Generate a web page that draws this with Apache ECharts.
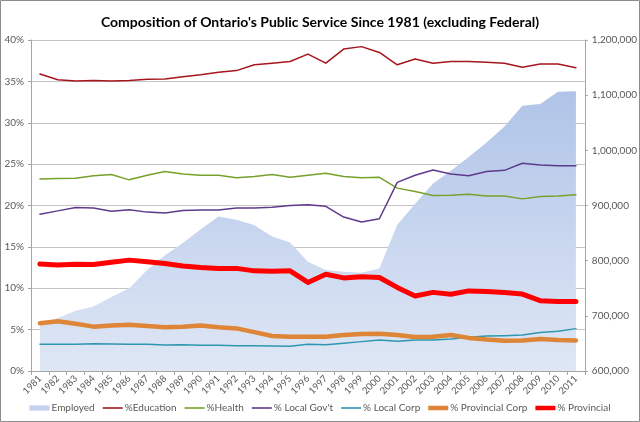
<!DOCTYPE html>
<html>
<head>
<meta charset="utf-8">
<script src="https://cdn.jsdelivr.net/npm/echarts@6/dist/echarts.min.js"></script>
<style>
html,body{margin:0;padding:0;background:#fff;}
#chart{width:640px;height:422px;}
</style>
</head>
<body>
<div id="chart"></div>
<script>
var years = ['1981','1982','1983','1984','1985','1986','1987','1988','1989','1990','1991','1992','1993','1994','1995','1996','1997','1998','1999','2000','2001','2002','2003','2004','2005','2006','2007','2008','2009','2010','2011'];
var employed = [682000,696000,709000,717000,734000,750000,783000,810000,832000,857000,880000,874000,864000,844000,833000,798000,783000,780000,778000,786000,865000,903000,940000,963000,988000,1014000,1043000,1081000,1084000,1106000,1107000];
var education = [35.9,35.2,35.05,35.1,35.05,35.1,35.25,35.3,35.55,35.8,36.1,36.3,37.0,37.2,37.4,38.3,37.2,38.9,39.2,38.5,37.0,37.7,37.2,37.4,37.4,37.3,37.2,36.7,37.1,37.1,36.65];
var health = [23.2,23.25,23.3,23.6,23.75,23.1,23.65,24.1,23.8,23.65,23.65,23.35,23.5,23.75,23.4,23.65,23.9,23.5,23.35,23.4,22.1,21.7,21.2,21.25,21.35,21.15,21.15,20.8,21.1,21.15,21.3];
var localGov = [18.95,19.35,19.75,19.7,19.3,19.5,19.2,19.1,19.4,19.45,19.45,19.7,19.7,19.8,20.0,20.1,19.9,18.6,18.0,18.4,22.8,23.65,24.3,23.8,23.6,24.1,24.25,25.1,24.9,24.8,24.8];
var localCorp = [3.23,3.23,3.23,3.3,3.27,3.23,3.23,3.15,3.18,3.1,3.1,3.06,3.06,3.02,2.98,3.23,3.18,3.35,3.55,3.75,3.6,3.75,3.75,3.87,4.07,4.23,4.27,4.35,4.64,4.8,5.12];
var provCorp = [5.77,6.0,5.7,5.36,5.5,5.6,5.45,5.3,5.35,5.5,5.3,5.15,4.7,4.23,4.15,4.15,4.15,4.35,4.48,4.5,4.35,4.1,4.15,4.35,4.0,3.8,3.67,3.7,3.87,3.75,3.7];
var provincial = [12.94,12.8,12.9,12.86,13.15,13.4,13.2,13.0,12.7,12.5,12.4,12.4,12.1,12.05,12.1,10.7,11.7,11.25,11.4,11.3,10.1,9.07,9.5,9.27,9.68,9.6,9.5,9.3,8.5,8.4,8.4];

var FONT = 'Lato, "Liberation Sans", sans-serif';
var TXT = '#595959';
var areaGrad = new echarts.graphic.LinearGradient(0,0,0,1,[
  {offset:0,color:'#b0c4e8'},
  {offset:1,color:'#dfe7f5'}
]);
var THIN = 'path://M0,0h20v1.6h-20z';
var THICK = 'path://M0,0h20v4.5h-20z';
var BOX = 'path://M0,0h19v5h-19z';

function lineSeries(name, data, color, width){
  return {
    name:name, type:'line', data:data, yAxisIndex:0,
    symbol:'none', showSymbol:false,
    lineStyle:{color:color,width:width,join:'round',cap:'round'},
    itemStyle:{color:color},
    emphasis:{disabled:true},
    animation:false
  };
}

var chart = echarts.init(document.getElementById('chart'));
chart.setOption({
  animation:false,
  textStyle:{fontFamily:FONT},
  title:{
    text:"Composition of Ontario's Public Service Since 1981 (excluding Federal)",
    left:'center', top:10,
    textStyle:{fontFamily:FONT,fontSize:14,fontWeight:'bold',color:'#000'}
  },
  graphic:[{
    type:'rect', silent:true, z:-10,
    shape:{x:0.5,y:0.5,width:639,height:421},
    style:{fill:null,stroke:'#8c8c8c',lineWidth:1}
  }],
  legend:{
    bottom:4, left:'center',
    itemWidth:20, itemHeight:8, itemGap:8,
    symbolKeepAspect:true,
    textStyle:{fontFamily:FONT,fontSize:10,color:TXT,padding:[0,0,0,-3]},
    data:[
      {name:'Employed',icon:BOX},
      {name:'%Education',icon:THIN},
      {name:'%Health',icon:THIN},
      {name:"% Local Gov't",icon:THIN},
      {name:'% Local Corp',icon:THIN},
      {name:'% Provincial Corp',icon:THICK},
      {name:'% Provincial',icon:THICK}
    ]
  },
  grid:{left:31,right:52,top:40,bottom:51,containLabel:false},
  xAxis:{
    type:'category', data:years, boundaryGap:true,
    axisLine:{lineStyle:{color:'#a6a6a6'}},
    axisTick:{show:true,length:4,lineStyle:{color:'#a6a6a6'}},
    axisLabel:{rotate:45,fontSize:9.5,color:TXT,margin:6,fontFamily:FONT,interval:0},
    splitLine:{show:false}
  },
  yAxis:[{
    type:'value', min:0, max:40, interval:5, position:'left',
    axisLine:{show:true,lineStyle:{color:'#a6a6a6'}},
    axisTick:{show:true,length:3,lineStyle:{color:'#a6a6a6'}},
    axisLabel:{formatter:'{value}%',fontSize:10,color:TXT,margin:7,fontFamily:FONT},
    splitLine:{show:true,lineStyle:{color:'#c4c4c4',width:1}}
  },{
    type:'value', min:600000, max:1200000, interval:100000, position:'right',
    axisLine:{show:true,lineStyle:{color:'#a6a6a6'}},
    axisTick:{show:true,length:3,lineStyle:{color:'#a6a6a6'}},
    axisLabel:{fontSize:10,color:TXT,margin:7,fontFamily:FONT,
      formatter:function(v){return v.toLocaleString('en-US');}},
    splitLine:{show:false}
  }],
  series:[
    {
      name:'Employed', type:'line', data:employed, yAxisIndex:1,
      symbol:'none', showSymbol:false,
      lineStyle:{width:0,opacity:0},
      itemStyle:{color:'#c3d3ee'},
      areaStyle:{color:areaGrad,opacity:1,origin:'start'},
      emphasis:{disabled:true}, z:1
    },
    lineSeries('%Education', education, '#a5161d', 1.5),
    lineSeries('%Health', health, '#76a12a', 1.5),
    lineSeries("% Local Gov't", localGov, '#5e3a8b', 1.5),
    lineSeries('% Local Corp', localCorp, '#2e96ae', 1.5),
    lineSeries('% Provincial Corp', provCorp, '#de8537', 4.5),
    lineSeries('% Provincial', provincial, '#ff0000', 5)
  ]
});
</script>
</body>
</html>
